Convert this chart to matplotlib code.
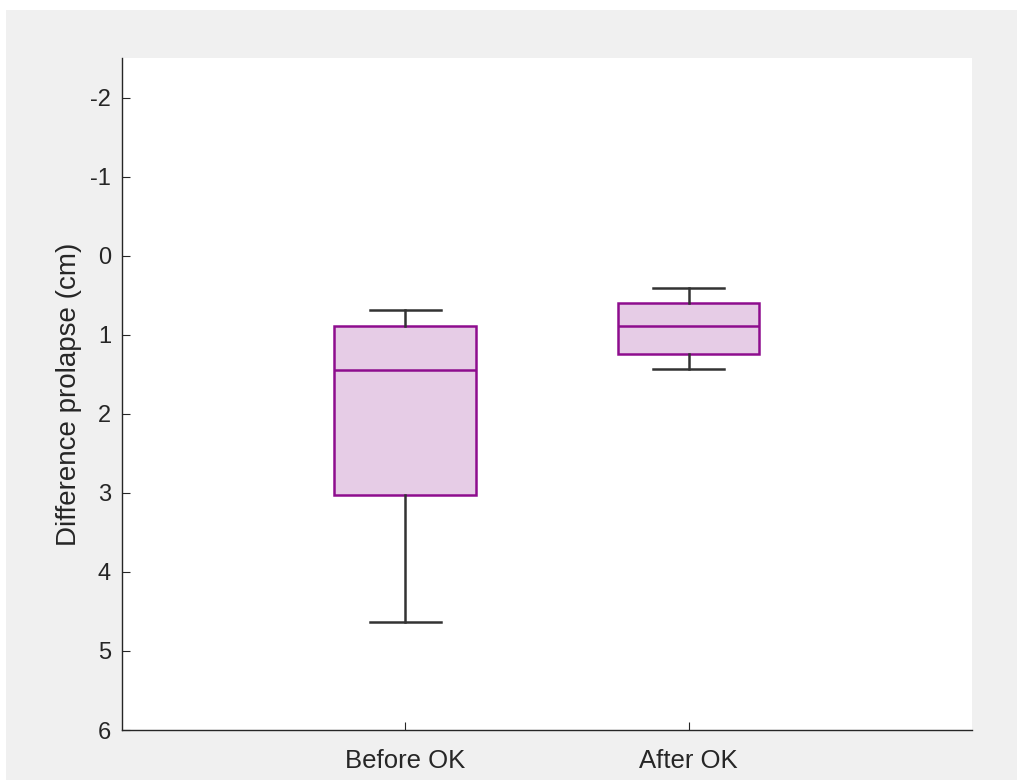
import matplotlib
matplotlib.use("Agg")
import matplotlib.pyplot as plt
from matplotlib.patches import Rectangle

# valeurs
groupes = ["Before OK", "After OK"]
whisker_haut = [0.69, 0.41]
q1 = [0.89, 0.60]
mediane = [1.45, 0.89]
q3 = [3.03, 1.24]
whisker_bas = [4.64, 1.44]

plt.rcParams['font.family'] = ['Liberation Sans', 'DejaVu Sans']
plt.rcParams['axes.unicode_minus'] = False

fig = plt.figure(figsize=(10.17, 7.80), dpi=100, facecolor="white")
# fond gris style MATLAB
fig.patches.append(Rectangle((6/1017, 0), 1, 1 - 10/780, transform=fig.transFigure,
                             facecolor="#f0f0f0", edgecolor="none", zorder=-10))
ax = fig.add_axes([122/1017, 1 - 730/780, (972-122)/1017, (730-58)/780])
ax.set_facecolor("white")

stats = []
for i in range(len(groupes)):
    stats.append({"label": groupes[i], "whislo": whisker_haut[i], "q1": q1[i],
                  "med": mediane[i], "q3": q3[i], "whishi": whisker_bas[i], "fliers": []})

ax.bxp(stats, positions=[1, 2], widths=0.5, patch_artist=True, showfliers=False,
       boxprops=dict(facecolor="#e6cce6", edgecolor="#8e0d8e", linewidth=1.8),
       medianprops=dict(color="#8e0d8e", linewidth=1.8),
       whiskerprops=dict(color="#333333", linewidth=1.8),
       capprops=dict(color="#333333", linewidth=1.8), capwidths=0.25)

ax.set_xlim(0, 3)
ax.set_ylim(6, -2.5)
ax.set_yticks(range(-2, 7))
ax.set_xticks([1, 2])
ax.set_xticklabels(groupes)
ax.set_ylabel("Difference prolapse (cm)", fontsize=20, color="#262626", labelpad=6)
ax.spines["top"].set_visible(False)
ax.spines["right"].set_visible(False)
for s in ["left", "bottom"]:
    ax.spines[s].set_color("#262626")
    ax.spines[s].set_linewidth(1.0)
ax.tick_params(axis="both", colors="#262626", direction="in", length=6)
ax.tick_params(axis="y", labelsize=17, pad=8)
ax.tick_params(axis="x", labelsize=18.5, pad=14)

fig.savefig("out.png", dpi=100, facecolor=fig.get_facecolor())
